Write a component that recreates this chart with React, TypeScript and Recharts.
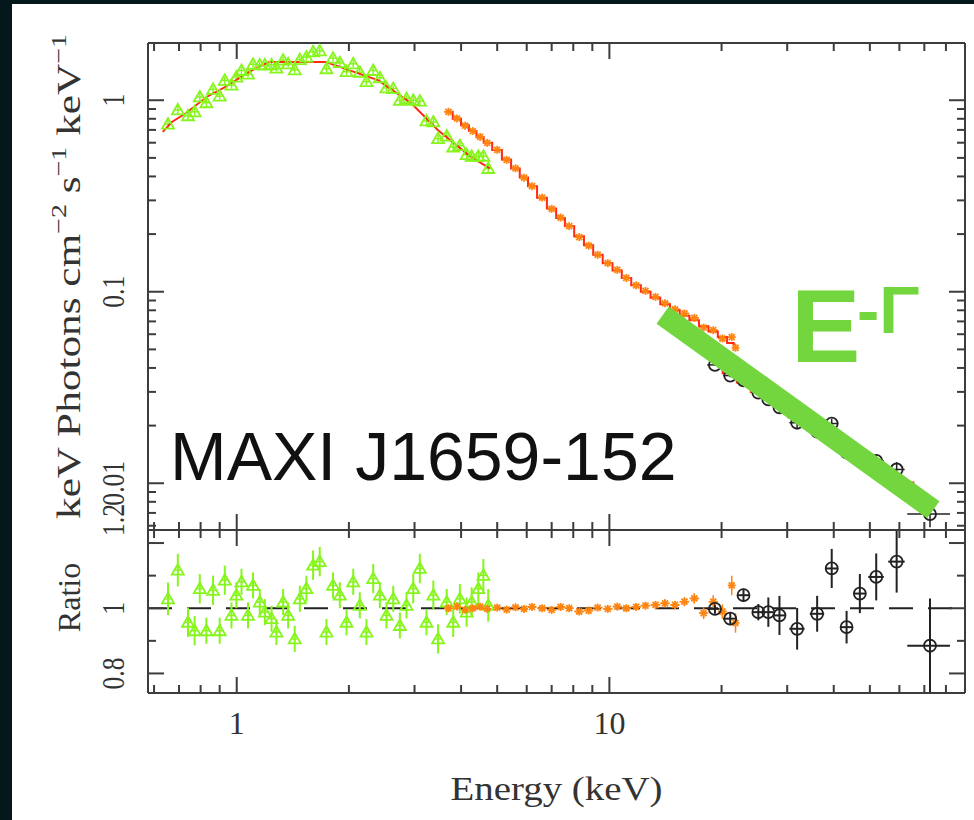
import React from 'react';
import { ComposedChart, Scatter, Line, XAxis, YAxis, ErrorBar, ReferenceLine } from 'recharts';

// ---- axes ----
const xDomain = [0.578, 90];
const xTicks = [0.6, 0.7, 0.8, 0.9, 1, 2, 3, 4, 5, 6, 7, 8, 9, 10, 20, 30, 40, 50, 60, 70, 80];
const xMajor = [1, 10];
const fluxDomain = [0.0057, 1.99];
const fluxTicks = [0.006, 0.007, 0.008, 0.009, 0.01, 0.02, 0.03, 0.04, 0.05, 0.06, 0.07, 0.08, 0.09, 0.1, 0.2, 0.3, 0.4, 0.5, 0.6, 0.7, 0.8, 0.9, 1];
const fluxMajor = [0.01, 0.1, 1];
const ratioDomain = [0.74, 1.24];
const ratioTicks = [0.8, 0.9, 1, 1.1, 1.2];
const ratioMajor = [0.8, 1, 1.2];

// ---- green data set (soft) ----
const greenE = [0.654, 0.695, 0.74, 0.771, 0.796, 0.829, 0.864, 0.9, 0.929, 0.968, 0.998, 1.03, 1.072, 1.106, 1.153, 1.19, 1.24, 1.278, 1.332, 1.374, 1.431, 1.477, 1.538, 1.603, 1.67, 1.741, 1.813, 1.891, 1.971, 2.054, 2.139, 2.229, 2.324, 2.421, 2.523, 2.63, 2.74, 2.855, 2.976, 3.1, 3.23, 3.37, 3.47, 3.66, 3.81, 3.97, 4.14, 4.27, 4.45, 4.59, 4.73];
const greenXErr = [0.012, 0.013, 0.014, 0.015, 0.015, 0.016, 0.017, 0.017, 0.018, 0.019, 0.019, 0.02, 0.021, 0.021, 0.022, 0.023, 0.024, 0.025, 0.026, 0.026, 0.027, 0.028, 0.03, 0.031, 0.032, 0.033, 0.035, 0.036, 0.038, 0.04, 0.041, 0.043, 0.045, 0.046, 0.048, 0.05, 0.053, 0.055, 0.057, 0.06, 0.062, 0.065, 0.067, 0.07, 0.073, 0.076, 0.08, 0.082, 0.085, 0.088, 0.09];
const greenFlux = [0.75, 0.89, 0.83, 0.87, 1.04, 0.97, 1.14, 1.05, 1.27, 1.2, 1.32, 1.43, 1.37, 1.54, 1.53, 1.53, 1.53, 1.47, 1.62, 1.55, 1.44, 1.63, 1.68, 1.79, 1.81, 1.46, 1.66, 1.57, 1.41, 1.55, 1.4, 1.25, 1.43, 1.31, 1.16, 1.15, 1.0, 1.02, 1.0, 0.99, 0.78, 0.77, 0.63, 0.65, 0.57, 0.58, 0.52, 0.51, 0.51, 0.51, 0.44];
const greenFluxErr = [0.04, 0.045, 0.04, 0.04, 0.05, 0.045, 0.05, 0.045, 0.055, 0.05, 0.055, 0.06, 0.055, 0.06, 0.06, 0.06, 0.06, 0.06, 0.065, 0.06, 0.06, 0.065, 0.07, 0.075, 0.075, 0.06, 0.065, 0.065, 0.055, 0.065, 0.055, 0.05, 0.06, 0.055, 0.045, 0.045, 0.04, 0.04, 0.045, 0.045, 0.035, 0.035, 0.03, 0.03, 0.028, 0.028, 0.026, 0.025, 0.026, 0.026, 0.024];
const greenRatio = [1.029, 1.117, 0.957, 0.931, 1.06, 0.931, 1.055, 0.931, 1.086, 0.978, 1.04, 1.081, 0.978, 1.07, 1.019, 0.988, 0.968, 0.927, 1.019, 0.978, 0.906, 1.029, 1.06, 1.132, 1.143, 0.927, 1.07, 1.04, 0.957, 1.081, 1.009, 0.927, 1.091, 1.04, 0.978, 1.029, 0.947, 1.009, 1.06, 1.122, 0.957, 1.04, 0.906, 1.019, 0.957, 1.029, 0.988, 1.019, 1.06, 1.101, 1.009];
const greenRatioErr = [0.05, 0.05, 0.045, 0.045, 0.045, 0.04, 0.045, 0.04, 0.045, 0.04, 0.04, 0.04, 0.04, 0.04, 0.04, 0.04, 0.04, 0.04, 0.04, 0.04, 0.04, 0.04, 0.04, 0.045, 0.045, 0.04, 0.04, 0.04, 0.04, 0.04, 0.04, 0.04, 0.045, 0.04, 0.04, 0.04, 0.04, 0.04, 0.045, 0.045, 0.04, 0.045, 0.045, 0.04, 0.045, 0.045, 0.045, 0.045, 0.05, 0.05, 0.05];
const greenModelE = [0.633, 0.67, 0.73, 0.83, 0.93, 1.08, 1.22, 1.73, 2.4, 2.94, 3.47, 4.25, 4.78];
const greenModel = [0.683, 0.77, 0.855, 1.04, 1.17, 1.405, 1.585, 1.585, 1.27, 0.965, 0.697, 0.506, 0.441];

// ---- orange data set ----
const orangeE = [3.7, 3.9, 4.1, 4.3, 4.5, 4.7, 5.0, 5.3, 5.6, 5.9, 6.2, 6.6, 7.0, 7.4, 7.8, 8.3, 8.8, 9.3, 9.9, 10.5, 11.1, 11.8, 12.5, 13.3, 14.1, 15.0, 15.9, 16.9, 17.9, 19.0, 20.1, 21.3, 21.8];
const orangeXErr = [0.1, 0.1, 0.1, 0.1, 0.1, 0.12, 0.15, 0.15, 0.15, 0.15, 0.18, 0.2, 0.2, 0.2, 0.22, 0.25, 0.25, 0.28, 0.3, 0.3, 0.33, 0.35, 0.38, 0.4, 0.42, 0.45, 0.48, 0.5, 0.52, 0.55, 0.55, 0.3, 0.25];
const orangeFlux = [0.87, 0.804, 0.736, 0.69, 0.643, 0.599, 0.551, 0.488, 0.441, 0.394, 0.356, 0.31, 0.271, 0.244, 0.22, 0.193, 0.174, 0.156, 0.141, 0.13, 0.118, 0.108, 0.101, 0.094, 0.087, 0.081, 0.077, 0.073, 0.065, 0.063, 0.057, 0.058, 0.051];
const orangeModel = [0.87, 0.8, 0.74, 0.69, 0.64, 0.6, 0.55, 0.49, 0.44, 0.395, 0.355, 0.31, 0.272, 0.243, 0.22, 0.195, 0.175, 0.156, 0.141, 0.129, 0.118, 0.108, 0.1, 0.093, 0.086, 0.08, 0.075, 0.071, 0.066, 0.062, 0.058, 0.054, 0.053];
const orangeRatio = [1.0, 1.005, 0.995, 1.0, 1.005, 0.998, 1.002, 0.996, 1.003, 0.998, 1.004, 1.0, 0.995, 1.004, 1.0, 0.99, 0.993, 1.002, 0.998, 1.005, 1.0, 1.004, 1.008, 1.01, 1.015, 1.01, 1.02, 1.03, 0.985, 1.02, 0.99, 1.07, 0.955];
const orangeRatioErr = [0.006, 0.006, 0.006, 0.006, 0.006, 0.006, 0.006, 0.006, 0.006, 0.006, 0.006, 0.006, 0.007, 0.007, 0.007, 0.008, 0.008, 0.008, 0.008, 0.009, 0.009, 0.01, 0.01, 0.011, 0.012, 0.013, 0.014, 0.016, 0.018, 0.02, 0.022, 0.03, 0.03];

// ---- black data set (hard) ----
const blackE = [19.2, 21.1, 22.9, 25.1, 26.7, 28.6, 31.9, 36.1, 39.5, 43.3, 47.0, 52.0, 59.0, 72.5];
const blackXErr = [0.9, 0.9, 0.9, 0.9, 0.8, 1.0, 1.5, 1.6, 1.6, 1.7, 1.7, 2.5, 3.0, 9.5];
const blackFlux = [0.0415, 0.0365, 0.0345, 0.0297, 0.0274, 0.0249, 0.0207, 0.0186, 0.0205, 0.0145, 0.0141, 0.0131, 0.0118, 0.0069];
const blackFluxErr = [0.0006, 0.0007, 0.0007, 0.0007, 0.0012, 0.0015, 0.0013, 0.001, 0.0012, 0.0007, 0.0008, 0.0009, 0.0011, 0.001];
const blackModel = [0.042, 0.0375, 0.0336, 0.03, 0.0277, 0.0254, 0.0221, 0.0189, 0.0168, 0.015, 0.0135, 0.0118, 0.0101, 0.0082];
const blackRatio = [0.998, 0.968, 1.04, 0.988, 0.988, 0.978, 0.937, 0.983, 1.122, 0.942, 1.045, 1.096, 1.143, 0.885];
const blackRatioErr = [0.015, 0.02, 0.02, 0.025, 0.045, 0.06, 0.064, 0.055, 0.06, 0.05, 0.06, 0.072, 0.095, 0.145];

// E^-Gamma guide
const guideE = [13.9, 74];
const guideF = [0.0755, 0.00727];

const greenTop = greenE.map((e, i) => ({ e, f: greenFlux[i], fe: greenFluxErr[i], xe: greenXErr[i] }));
const greenBot = greenE.map((e, i) => ({ e, r: greenRatio[i], re: greenRatioErr[i], xe: greenXErr[i] }));
const greenLine = greenModelE.map((e, i) => ({ e, m: greenModel[i] }));
const orangeTop = orangeE.map((e, i) => ({ e, f: orangeFlux[i], xe: orangeXErr[i] }));
const orangeBot = orangeE.map((e, i) => ({ e, r: orangeRatio[i], re: orangeRatioErr[i], xe: orangeXErr[i] }));
const orangeLine = orangeE.map((e, i) => ({ e, m: orangeModel[i] }));
const blackTop = blackE.map((e, i) => ({ e, f: blackFlux[i], fe: blackFluxErr[i], xe: blackXErr[i] }));
const blackBot = blackE.map((e, i) => ({ e, r: blackRatio[i], re: blackRatioErr[i], xe: blackXErr[i] }));
const blackLine = blackE.map((e, i) => ({ e, m: blackModel[i] }));

const frame = '#3c3c3c';
const ink = '#333';
const lime = '#86f51c';
const orange = '#ff8410';
const red = '#ff2a14';
const leaf = '#73d63e';
const serif = '"Liberation Serif", "DejaVu Serif", serif';
const sans = '"Liberation Sans", Arial, sans-serif';
const axisStyle = { stroke: frame, strokeWidth: 2 };

function makeXTick(dir: number, labelled: boolean) {
  return (props: any) => {
    const { x, y, payload } = props;
    const v = payload.value;
    const major = xMajor.includes(v);
    return (
      <g>
        <line x1={x} x2={x} y1={y} y2={y + dir * (major ? 16 : 8)} stroke={frame} strokeWidth={2} />
        {labelled && major ? (
          <text x={x} y={y + 41} textAnchor="middle" fontFamily={serif} fontSize={32} fill={ink}>
            {v}
          </text>
        ) : null}
      </g>
    );
  };
}

function makeYTick(dir: number, labelled: boolean, majors: number[], shift: Record<string, number> = {}) {
  return (props: any) => {
    const { x, y, payload } = props;
    const v = payload.value;
    const major = majors.includes(v);
    const dy = shift[String(v)] || 0;
    return (
      <g>
        <line x1={x} x2={x + dir * (major ? 16 : 8)} y1={y} y2={y} stroke={frame} strokeWidth={2} />
        {labelled && major ? (
          <text transform={`translate(${x - 24},${y + dy}) rotate(-90) scale(0.8,1)`} textAnchor="middle" fontFamily={serif} fontSize={32} fill={ink}>
            {String(v)}
          </text>
        ) : null}
      </g>
    );
  };
}

const Tri = (p: any) => {
  const { cx, cy } = p;
  if (cx == null || cy == null) return <g />;
  return <path d={`M${cx},${cy - 6} L${cx + 6},${cy + 4.5} L${cx - 6},${cy + 4.5} Z`} fill="none" stroke={lime} strokeWidth={1.8} />;
};

const Star = (p: any) => {
  const { cx, cy } = p;
  if (cx == null || cy == null) return <g />;
  return (
    <g stroke={orange} strokeWidth={1.8}>
      <line x1={cx - 4} x2={cx + 4} y1={cy} y2={cy} />
      <line x1={cx} x2={cx} y1={cy - 4} y2={cy + 4} />
      <line x1={cx - 3} x2={cx + 3} y1={cy - 3} y2={cy + 3} />
      <line x1={cx - 3} x2={cx + 3} y1={cy + 3} y2={cy - 3} />
    </g>
  );
};

const Ring = (p: any) => {
  const { cx, cy } = p;
  if (cx == null || cy == null) return <g />;
  return <circle cx={cx} cy={cy} r={6} fill="none" stroke="#222" strokeWidth={1.8} />;
};

const fluxTitle = (p: any) => {
  const vb = p.viewBox || { x: 147, y: 43, width: 1, height: 487 };
  const cx = vb.x + vb.width - 68;
  const cy = vb.y + vb.height / 2 - 10;
  return (
    <text transform={`translate(${cx},${cy}) rotate(-90)`} textAnchor="middle" fontFamily={serif} fontSize={34} fill={ink} textLength={485} lengthAdjust="spacingAndGlyphs">
      keV Photons cm
      <tspan fontSize={22} dy={-14}>−2</tspan>
      <tspan dy={14}>{' s'}</tspan>
      <tspan fontSize={22} dy={-14}>−1</tspan>
      <tspan dy={14}>{' keV'}</tspan>
      <tspan fontSize={22} dy={-14}>−1</tspan>
    </text>
  );
};

const ratioTitle = (p: any) => {
  const vb = p.viewBox || { x: 147, y: 30, width: 1, height: 163 };
  return (
    <text transform={`translate(${vb.x + vb.width - 68},${vb.y + vb.height / 2 - 14}) rotate(-90)`} textAnchor="middle" fontFamily={serif} fontSize={32} fill={ink}>
      Ratio
    </text>
  );
};

const energyTitle = (p: any) => {
  const vb = p.viewBox || { x: 148, y: 193, width: 817 };
  return (
    <text x={vb.x + vb.width / 2} y={vb.y + 107} textAnchor="middle" fontFamily={serif} fontSize={34} fill={ink} textLength={212} lengthAdjust="spacingAndGlyphs">
      Energy (keV)
    </text>
  );
};

const xCommon = {
  dataKey: 'e',
  type: 'number' as const,
  scale: 'log' as const,
  domain: xDomain,
  allowDataOverflow: true,
  ticks: xTicks,
  interval: 0 as const,
  tickSize: 0,
  tickMargin: 0,
  tickLine: false,
  axisLine: axisStyle,
};

export default function App() {
  return (
    <div style={{ position: 'absolute', left: 0, top: 0, width: 974, height: 820, background: '#04171a', overflow: 'hidden' }}>
      <div style={{ position: 'absolute', left: 12, top: 4, right: 0, bottom: 0, background: '#fff' }} />

      <div style={{ position: 'absolute', left: 0, top: 0 }}>
        <ComposedChart width={974} height={540} margin={{ top: 42, right: 8, bottom: 9, left: 147 }}>
          <XAxis xAxisId="b" {...xCommon} height={1} tick={makeXTick(-1, false)} />
          <XAxis xAxisId="t" orientation="top" {...xCommon} height={1} tick={makeXTick(1, false)} />
          <YAxis yAxisId="l" dataKey="f" type="number" scale="log" domain={fluxDomain} allowDataOverflow ticks={fluxTicks} interval={0} width={1} tickSize={0} tickMargin={0} tickLine={false} axisLine={axisStyle} tick={makeYTick(1, true, fluxMajor)} label={fluxTitle} />
          <YAxis yAxisId="r" orientation="right" dataKey="f" type="number" scale="log" domain={fluxDomain} allowDataOverflow ticks={fluxTicks} interval={0} width={1} tickSize={0} tickMargin={0} tickLine={false} axisLine={axisStyle} tick={makeYTick(-1, false, fluxMajor)} />

          <Scatter xAxisId="b" yAxisId="l" data={greenTop} dataKey="f" shape={Tri} isAnimationActive={false}>
            <ErrorBar dataKey="xe" direction="x" width={0} stroke={lime} strokeWidth={1.5} />
            <ErrorBar dataKey="fe" direction="y" width={0} stroke={lime} strokeWidth={1.5} />
          </Scatter>
          <Line xAxisId="b" yAxisId="l" data={greenLine} dataKey="m" type="linear" stroke={red} strokeWidth={2} dot={false} isAnimationActive={false} />

          <Scatter xAxisId="b" yAxisId="l" data={orangeTop} dataKey="f" shape={Star} isAnimationActive={false}>
            <ErrorBar dataKey="xe" direction="x" width={0} stroke={orange} strokeWidth={1.5} />
          </Scatter>
          <Line xAxisId="b" yAxisId="l" data={orangeLine} dataKey="m" type="step" stroke={red} strokeWidth={2} dot={false} isAnimationActive={false} />

          <Scatter xAxisId="b" yAxisId="l" data={blackTop} dataKey="f" shape={Ring} isAnimationActive={false}>
            <ErrorBar dataKey="xe" direction="x" width={0} stroke="#222" strokeWidth={1.5} />
            <ErrorBar dataKey="fe" direction="y" width={0} stroke="#222" strokeWidth={1.5} />
          </Scatter>
          <Line xAxisId="b" yAxisId="l" data={blackLine} dataKey="m" type="step" stroke={red} strokeWidth={2} dot={false} isAnimationActive={false} />

          <ReferenceLine
            xAxisId="b"
            yAxisId="l"
            segment={[{ x: guideE[0], y: guideF[0] }, { x: guideE[1], y: guideF[1] }]}
            stroke={leaf}
            strokeWidth={21}
            zIndex={2000}
          />
        </ComposedChart>
      </div>

      <div style={{ position: 'absolute', left: 0, top: 500 }}>
        <ComposedChart width={974} height={320} margin={{ top: 29, right: 8, bottom: 0, left: 147 }}>
          <XAxis xAxisId="b" {...xCommon} height={127} tick={makeXTick(-1, true)} label={energyTitle} />
          <XAxis xAxisId="t" orientation="top" {...xCommon} height={1} tick={makeXTick(1, false)} />
          <YAxis yAxisId="l" dataKey="r" type="number" domain={ratioDomain} allowDataOverflow ticks={ratioTicks} interval={0} width={1} tickSize={0} tickMargin={0} tickLine={false} axisLine={axisStyle} tick={makeYTick(1, true, ratioMajor, { '1.2': -23 })} label={ratioTitle} />
          <YAxis yAxisId="r" orientation="right" dataKey="r" type="number" domain={ratioDomain} allowDataOverflow ticks={ratioTicks} interval={0} width={1} tickSize={0} tickMargin={0} tickLine={false} axisLine={axisStyle} tick={makeYTick(-1, false, ratioMajor)} />

          <ReferenceLine xAxisId="b" yAxisId="l" y={1} stroke="#222" strokeWidth={2} strokeDasharray="24 15" />

          <Scatter xAxisId="b" yAxisId="l" data={greenBot} dataKey="r" shape={Tri} isAnimationActive={false}>
            <ErrorBar dataKey="xe" direction="x" width={0} stroke={lime} strokeWidth={1.5} />
            <ErrorBar dataKey="re" direction="y" width={0} stroke={lime} strokeWidth={2} />
          </Scatter>
          <Scatter xAxisId="b" yAxisId="l" data={orangeBot} dataKey="r" shape={Star} isAnimationActive={false}>
            <ErrorBar dataKey="xe" direction="x" width={0} stroke={orange} strokeWidth={1.5} />
            <ErrorBar dataKey="re" direction="y" width={0} stroke={orange} strokeWidth={1.5} />
          </Scatter>
          <Scatter xAxisId="b" yAxisId="l" data={blackBot} dataKey="r" shape={Ring} isAnimationActive={false}>
            <ErrorBar dataKey="xe" direction="x" width={0} stroke="#222" strokeWidth={2} />
            <ErrorBar dataKey="re" direction="y" width={0} stroke="#222" strokeWidth={2} />
          </Scatter>
        </ComposedChart>
      </div>

      <svg width={974} height={820} style={{ position: 'absolute', left: 0, top: 0, pointerEvents: 'none' }}>
        <text x={170} y={480} fontFamily={sans} fontSize={68} fill="#111">
          MAXI J1659-152
        </text>
        <text x={791} y={362} fontFamily={sans} fontSize={104} fontWeight="bold" fill={leaf}>
          E
          <tspan x={857} y={333} fontSize={67}>
            -Γ
          </tspan>
        </text>
      </svg>
    </div>
  );
}
